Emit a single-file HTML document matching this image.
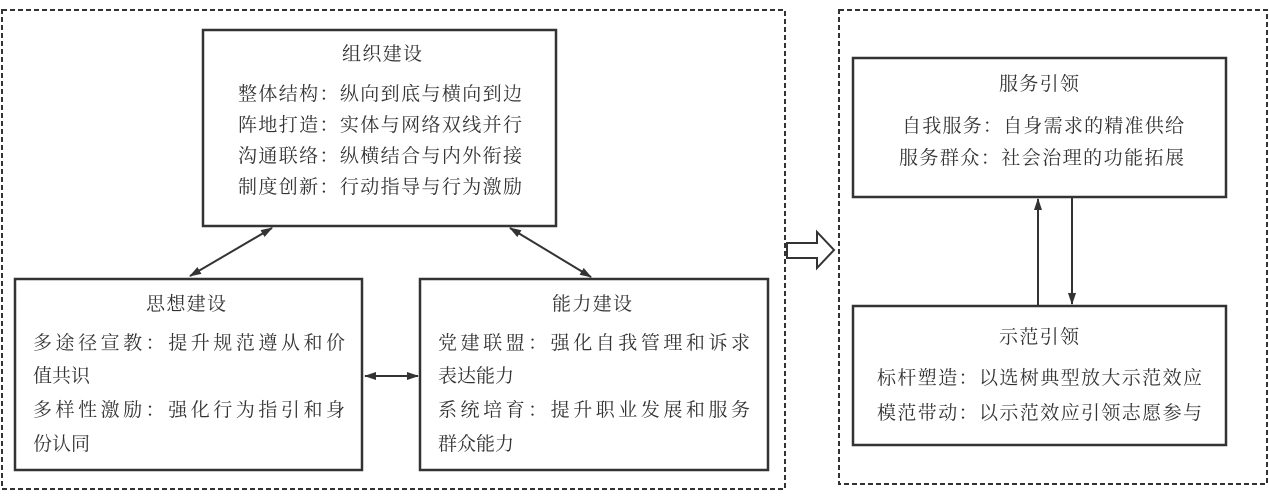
<!DOCTYPE html>
<html><head><meta charset="utf-8"><style>
html,body{margin:0;padding:0;background:#fff}
svg text{font-family:"Liberation Serif","Noto Serif CJK SC","Noto Sans CJK SC",serif;font-size:19px;fill:#333}
</style></head><body>
<svg width="1269" height="495" viewBox="0 0 1269 495" xmlns="http://www.w3.org/2000/svg">
<defs>
<marker id="a" markerWidth="12" markerHeight="8" refX="11" refY="4" orient="auto-start-reverse" markerUnits="userSpaceOnUse"><path d="M0,0 L12,4 L0,8 Z" fill="#333"/></marker>
</defs>
<g fill="none" stroke="#333" stroke-width="2" stroke-dasharray="5,3">
<rect x="2" y="10" width="783" height="479"/>
<rect x="839" y="10" width="428" height="474"/>
</g>
<g fill="#fff" stroke="#333" stroke-width="2.5">
<rect x="203" y="30" width="353" height="196"/>
<rect x="15" y="279" width="347" height="191"/>
<rect x="420" y="279" width="348" height="191"/>
<rect x="853" y="58" width="373" height="139"/>
<rect x="853" y="306" width="373" height="139"/>
</g>
<g stroke="#333" stroke-width="2" fill="none">
<line x1="272" y1="228" x2="190" y2="276" marker-start="url(#a)" marker-end="url(#a)"/>
<line x1="510" y1="228" x2="591" y2="277" marker-start="url(#a)" marker-end="url(#a)"/>
<line x1="365" y1="376" x2="418" y2="376" marker-start="url(#a)" marker-end="url(#a)"/>
<line x1="1038" y1="305" x2="1038" y2="199" marker-end="url(#a)"/>
<line x1="1072" y1="197" x2="1072" y2="304" marker-end="url(#a)"/>
<path d="M787,243 L817,243 L817,232 L834,250 L817,268 L817,258 L787,258 Z"/>
</g>
<text x="342" y="60" textLength="80" lengthAdjust="spacing">组织建设</text>
<text x="146" y="310" textLength="80" lengthAdjust="spacing">思想建设</text>
<text x="552" y="310" textLength="80" lengthAdjust="spacing">能力建设</text>
<text x="999" y="90" textLength="80" lengthAdjust="spacing">服务引领</text>
<text x="999" y="343" textLength="80" lengthAdjust="spacing">示范引领</text>
<text x="238" y="100" textLength="284" lengthAdjust="spacing">整体结构：纵向到底与横向到边</text>
<text x="238" y="131" textLength="284" lengthAdjust="spacing">阵地打造：实体与网络双线并行</text>
<text x="238" y="162" textLength="284" lengthAdjust="spacing">沟通联络：纵横结合与内外衔接</text>
<text x="238" y="193" textLength="284" lengthAdjust="spacing">制度创新：行动指导与行为激励</text>
<text x="33" y="349" textLength="312" lengthAdjust="spacing">多途径宣教：提升规范遵从和价</text>
<text x="33" y="382">值共识</text>
<text x="33" y="416" textLength="312" lengthAdjust="spacing">多样性激励：强化行为指引和身</text>
<text x="33" y="450">份认同</text>
<text x="438" y="349" textLength="312" lengthAdjust="spacing">党建联盟：强化自我管理和诉求</text>
<text x="438" y="382">表达能力</text>
<text x="438" y="416" textLength="312" lengthAdjust="spacing">系统培育：提升职业发展和服务</text>
<text x="438" y="450">群众能力</text>
<text x="902" y="132" textLength="282" lengthAdjust="spacing">自我服务：自身需求的精准供给</text>
<text x="899" y="164" textLength="285" lengthAdjust="spacing">服务群众：社会治理的功能拓展</text>
<text x="877" y="384" textLength="325" lengthAdjust="spacing">标杆塑造：以选树典型放大示范效应</text>
<text x="877" y="419" textLength="325" lengthAdjust="spacing">模范带动：以示范效应引领志愿参与</text>
</svg>
</body></html>
